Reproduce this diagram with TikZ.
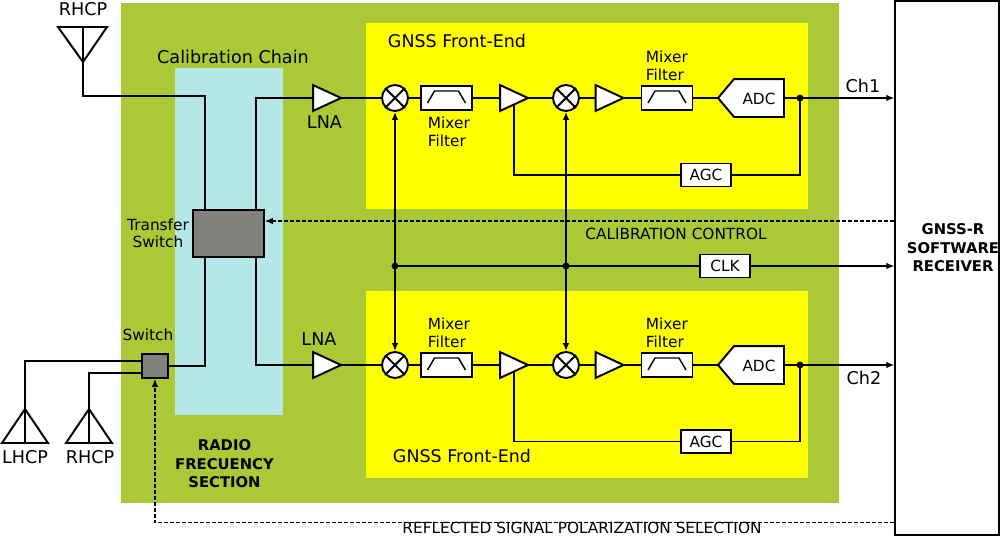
\documentclass[tikz,border=0pt]{standalone}
\usepackage{fontspec}
\setmainfont{DejaVu Sans}
\usetikzlibrary{arrows.meta,calc}
\definecolor{rfgreen}{HTML}{ABC837}
\definecolor{calcyan}{HTML}{B3E7E8}
\definecolor{feyellow}{HTML}{FFFF00}
\definecolor{swgray}{HTML}{7F817C}
\newcommand\fsL{\fontsize{13.2pt}{15pt}\selectfont}
\newcommand\fsM{\fontsize{13.1pt}{15pt}\selectfont}
\newcommand\fsS{\fontsize{11.5pt}{13pt}\selectfont}
\newcommand\fsT{\fontsize{11.5pt}{13pt}\selectfont}
\newcommand\fsB{\fontsize{11.1pt}{13pt}\selectfont\bfseries}
\newcommand\trap[1]{\draw[line width=1.1pt] ($(#1)+(-19,5)$) -- ($(#1)+(-12,-7)$) -- ($(#1)+(12,-7)$) -- ($(#1)+(19,5)$);}
\newcommand\crossmix[1]{\draw (#1.north west) -- (#1.south east) (#1.north east) -- (#1.south west);}
\newcommand\amptri[1]{\draw[fill=white] (#1.north west) -- (#1.east) -- (#1.south west) -- cycle;}
\newcommand\adcshape[2]{\draw[fill=white] (#1.north east) -- (#1.south east) -- (#1.south west) -- (#2) -- (#1.north west) -- cycle;}
\begin{document}
\begin{tikzpicture}[x=0.75pt,y=-0.75pt,line width=1.45pt,
  filt/.style={draw,fill=white,inner sep=0pt,minimum width=51*0.75pt,minimum height=24*0.75pt},
  sbox/.style={draw,fill=white,inner sep=0pt,minimum width=50*0.75pt,minimum height=23*0.75pt,font=\fsS},
  adcbox/.style={inner sep=0pt,minimum width=48*0.75pt,minimum height=36*0.75pt,font=\fsS},
  mix/.style={draw,fill=white,circle,inner sep=0pt,minimum size=26*0.75pt},
  amp/.style={inner sep=0pt,minimum width=26*0.75pt,minimum height=24*0.75pt},
  sig/.style={-{Latex[length=6pt,width=5pt]}},
  ctl/.style={line width=0.9pt,dash pattern=on 3pt off 1.5pt},
  lbl/.style={inner sep=0pt,anchor=base},
  lblw/.style={inner sep=0pt,anchor=base west},
  jdot/.style={radius=2.6pt}]
\useasboundingbox (0,0) rectangle (1000,536);
\fill[white] (0,0) rectangle (1000,536);
% regions
\fill[rfgreen] (121,3) rectangle (839,503);
\fill[calcyan] (175,68) rectangle (283,415);
\fill[feyellow] (366,23) rectangle (808,209);
\fill[feyellow] (366,291) rectangle (808,478);

% receiver
\node[draw,fill=white,line width=0.9pt,inner sep=0pt,minimum width=104*0.75pt,minimum height=534*0.75pt] (rx) at (947,268) {};
\node[lbl,font=\fsB] (rxa) at (953,234) {GNSS-R};
\node[lbl,font=\fsB] (rxb) at (953,253) {SOFTWARE};
\node[lbl,font=\fsB] (rxc) at (953,271) {RECEIVER};

% antennas
\coordinate (antT) at (83,62);
\draw (58,27) -- (107,27) -- (antT) -- cycle;
\draw (83,27) -- (antT);
\coordinate (antL) at (25,409);
\draw (antL) -- (2,443) -- (48,443) -- cycle;
\draw (antL) -- (25,443);
\coordinate (antR) at (89,409);
\draw (antR) -- (66,443) -- (112,443) -- cycle;
\draw (antR) -- (89,443);
\node[lbl,font=\fsL] (rhcpT) at (83,15) {RHCP};
\node[lbl,font=\fsL] (lhcpB) at (25,463) {LHCP};
\node[lbl,font=\fsL] (rhcpB) at (90,463) {RHCP};

% calibration chain
\node[lbl,font=\fsL] (calt) at (233,63) {Calibration Chain};
\node[draw,fill=swgray,inner sep=0pt,minimum width=71*0.75pt,minimum height=47*0.75pt] (ts) at (228.5,233.5) {};
\node[lbl,font=\fsT] (tsl1) at (158,230) {Transfer};
\node[lbl,font=\fsT] (tsl2) at (158,247) {Switch};
\coordinate (tsA) at ($(ts.north west)+(13,0)$);
\coordinate (tsB) at ($(ts.north east)+(-9,0)$);
\coordinate (tsAb) at ($(ts.south west)+(13,0)$);
\coordinate (tsBb) at ($(ts.south east)+(-9,0)$);
\coordinate (tsC) at ($(ts.north east)+(0,12)$);
\node[draw,fill=swgray,inner sep=0pt,minimum width=26*0.75pt,minimum height=24*0.75pt] (sw) at (155,366) {};
\node[lbl,font=\fsT] (swl) at (148,340) {Switch};

\node[lbl,font=\fsB] (rf1) at (224.5,450) {RADIO};
\node[lbl,font=\fsB] (rf2) at (224.5,469) {FRECUENCY};
\node[lbl,font=\fsB] (rf3) at (224.5,487) {SECTION};

% ---------- top chain
\node[amp] (lna1) at (327,98) {};
\amptri{lna1}
\node[lbl,font=\fsL] (lna1l) at (324.5,128) {LNA};
\node[mix] (mx1) at (395,98) {}; \crossmix{mx1}
\node[filt] (f1) at (446.5,98) {}; \trap{f1}
\node[amp] (a1) at (514,98) {}; \amptri{a1}
\node[mix] (mx2) at (566,98) {}; \crossmix{mx2}
\node[amp] (a2) at (609.5,98) {}; \amptri{a2}
\node[filt] (f2) at (667,98) {}; \trap{f2}
\node[adcbox] (adc1) at (759,98) {};
\coordinate (adctip1) at ($(adc1.west)+(-16,0)$);
\adcshape{adc1}{adctip1}
\node[lbl,font=\fsS] (adc1l) at (759,104) {ADC};
\coordinate (dot1) at (800,98);
\node[sbox] (agc1) at (706,175) {AGC};
\coordinate (a1lo) at ($(a1.south west)!0.5!(a1.east)$);
\node[lblw,font=\fsM] (fe1) at (387,47) {GNSS Front-End};
\node[lblw,font=\fsT] (mf1a) at (427,128) {Mixer};
\node[lblw,font=\fsT] (mf1b) at (427,146) {Filter};
\node[lblw,font=\fsT] (mf2a) at (645,62) {Mixer};
\node[lblw,font=\fsT] (mf2b) at (645,80) {Filter};
\node[lbl,font=\fsL] (ch1) at (863,92) {Ch1};

% ---------- bottom chain
\node[amp] (lnab) at (327,365) {};
\amptri{lnab}
\node[lbl,font=\fsL] (lnabl) at (319,345) {LNA};
\node[mix] (mxb1) at (395,365) {}; \crossmix{mxb1}
\node[filt] (fb1) at (446.5,365) {}; \trap{fb1}
\node[amp] (ab1) at (514,365) {}; \amptri{ab1}
\node[mix] (mxb2) at (566,365) {}; \crossmix{mxb2}
\node[amp] (ab2) at (609.5,365) {}; \amptri{ab2}
\node[filt] (fb2) at (667,365) {}; \trap{fb2}
\node[adcbox] (adc2) at (759,365) {};
\coordinate (adctip2) at ($(adc2.west)+(-16,0)$);
\adcshape{adc2}{adctip2}
\node[lbl,font=\fsS] (adc2l) at (759,371) {ADC};
\coordinate (dot2) at (800,365);
\node[sbox] (agc2) at (706,441.5) {AGC};
\coordinate (ab1lo) at ($(ab1.south west)!0.5!(ab1.east)$);
\node[lblw,font=\fsM] (fe2) at (392,462) {GNSS Front-End};
\node[lblw,font=\fsT] (mfb1a) at (427,329) {Mixer};
\node[lblw,font=\fsT] (mfb1b) at (427,347) {Filter};
\node[lblw,font=\fsT] (mfb2a) at (645,329) {Mixer};
\node[lblw,font=\fsT] (mfb2b) at (645,347) {Filter};
\node[lbl,font=\fsL] (ch2) at (864,384) {Ch2};

% clock
\node[sbox] (clk) at (725,266) {CLK};
\coordinate (cj1) at (mx1 |- clk);
\coordinate (cj2) at (mx2 |- clk);
\node[lbl,font=\fsS] (calctl) at (676,239) {CALIBRATION CONTROL};
\coordinate (refl) at ($(rx.south west)+(0,-13)$);
\node[lbl,font=\fsS] (refll) at (582,533.5) {REFLECTED SIGNAL POLARIZATION SELECTION};

% ---------- connectors
\draw (antT) -- ++(0,34) -| (tsA);
\draw (tsB) |- (lna1.west);
\draw (lna1.east) -- (mx1.west);
\draw (mx1.east) -- (f1.west);
\draw (f1.east) -- (a1.west);
\draw (a1.east) -- (mx2.west);
\draw (mx2.east) -- (a2.west);
\draw (a2.east) -- (f2.west);
\draw (f2.east) -- (adctip1);
\draw (adc1.east) -- (dot1);
\draw[sig] (dot1) -- (rx.west |- dot1);
\draw (dot1) |- (agc1.east);
\draw (agc1.west) -| (a1lo);
\fill (dot1) circle[jdot];

\draw (tsAb) |- (sw.east);
\draw (tsBb) |- (lnab.west);
\draw ($(sw.west)+(0,-5)$) -| (antL);
\draw ($(sw.west)+(0,7)$) -| (antR);
\draw (lnab.east) -- (mxb1.west);
\draw (mxb1.east) -- (fb1.west);
\draw (fb1.east) -- (ab1.west);
\draw (ab1.east) -- (mxb2.west);
\draw (mxb2.east) -- (ab2.west);
\draw (ab2.east) -- (fb2.west);
\draw (fb2.east) -- (adctip2);
\draw (adc2.east) -- (dot2);
\draw[sig] (dot2) -- (rx.west |- dot2);
\draw (dot2) |- (agc2.east);
\draw (agc2.west) -| (ab1lo);
\fill (dot2) circle[jdot];

\draw[{Latex[length=6pt,width=5pt]}-{Latex[length=6pt,width=5pt]}] (mx1.south) -- (mxb1.north);
\draw[{Latex[length=6pt,width=5pt]}-{Latex[length=6pt,width=5pt]}] (mx2.south) -- (mxb2.north);
\draw (cj1) -- (clk.west);
\draw[sig] (clk.east) -- (rx.west |- clk.east);
\fill (cj1) circle[jdot];
\fill (cj2) circle[jdot];

\draw[ctl,sig] (rx.west |- tsC) -- (tsC);
\draw[ctl,sig] (refl) -| (sw.south);
\end{tikzpicture}
\end{document}
